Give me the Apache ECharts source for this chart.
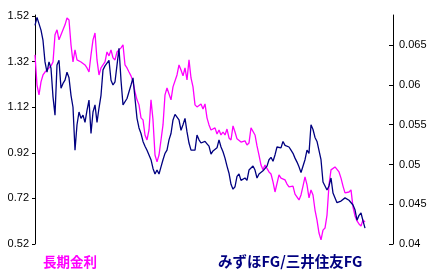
<!DOCTYPE html>
<html><head><meta charset="utf-8">
<script src="https://cdn.jsdelivr.net/npm/echarts@6/dist/echarts.min.js"></script>
<style>html,body{margin:0;padding:0;background:#fff}#c{width:433px;height:275px}</style>
</head><body><div id="c"></div>
<script>
const leftTicks = ['0.52','0.72','0.92','1.12','1.32','1.52'];
const rightTicks = ['0.04','0.045','0.05','0.055','0.06','0.065'];
const seriesNames = ['長期金利','みずほFG/三井住友FG'];
const yieldRate = [1.349,1.217,1.174,1.231,1.261,1.274,1.283,1.292,1.301,1.318,1.437,1.459,1.415,1.437,1.445,1.481,1.511,1.502,1.393,1.318,
1.371,1.327,1.327,1.318,1.318,1.305,1.292,1.274,1.349,1.415,1.445,1.327,1.261,1.292,1.305,1.318,1.362,1.345,1.371,1.336,
1.327,1.362,1.371,1.380,1.393,1.305,1.292,1.274,1.257,1.231,1.187,1.152,1.130,1.073,1.064,0.998,0.976,1.020,1.152,1.064,
0.910,0.880,0.910,0.976,1.042,1.174,1.204,1.200,1.152,1.209,1.217,1.261,1.305,1.283,1.257,1.292,1.239,1.327,1.248,1.209,
1.130,1.121,1.125,1.134,1.112,1.134,1.073,1.042,1.020,1.020,1.029,1.002,1.020,0.998,1.011,0.998,1.024,0.985,0.976,1.038,
1.011,0.981,0.976,0.967,0.959,0.972,0.954,0.963,1.029,1.033,0.998,0.950,0.910,0.866,0.845,0.866,0.858,0.836,0.827,0.792,
0.748,0.748,0.823,0.809,0.809,0.801,0.783,0.770,0.774,0.774,0.739,0.731,0.713,0.735,0.774,0.814,0.779,0.722,0.757,0.735,
0.669,0.625,0.568,0.538,0.581,0.590,0.647,0.779,0.845,0.853,0.858,0.866,0.836,0.809,0.774,0.744,0.744,0.748,0.757,0.682,
0.643,0.621,0.608,0.599,0.625,0.616];
const bankRatio = [0.0675,0.0685,0.0685,0.0669,0.0656,0.0629,0.0616,0.0629,0.0621,0.0585,0.0562,0.0625,0.0631,0.0596,0.0602,0.0606,0.0616,0.0609,0.0587,0.0572,
0.0518,0.0550,0.0566,0.0558,0.0562,0.0553,0.0568,0.0581,0.0539,0.0566,0.0575,0.0553,0.0571,0.0587,0.0619,0.0624,0.0625,0.0631,0.0606,0.0600,
0.0604,0.0625,0.0646,0.0606,0.0575,0.0576,0.0583,0.0581,0.0600,0.0609,0.0583,0.0558,0.0546,0.0539,0.0529,0.0523,0.0518,0.0516,0.0506,0.0495,
0.0488,0.0493,0.0488,0.0497,0.0506,0.0514,0.0518,0.0531,0.0539,0.0556,0.0563,0.0561,0.0556,0.0543,0.0550,0.0558,0.0541,0.0527,0.0518,0.0516,
0.0518,0.0537,0.0531,0.0527,0.0528,0.0529,0.0526,0.0523,0.0513,0.0517,0.0516,0.0521,0.0531,0.0522,0.0516,0.0508,0.0498,0.0489,0.0475,0.0469,
0.0472,0.0485,0.0488,0.0480,0.0478,0.0483,0.0480,0.0493,0.0492,0.0498,0.0493,0.0483,0.0488,0.0489,0.0492,0.0493,0.0498,0.0506,0.0509,0.0504,
0.0512,0.0522,0.0521,0.0521,0.0529,0.0524,0.0523,0.0522,0.0518,0.0514,0.0508,0.0503,0.0497,0.0490,0.0489,0.0506,0.0518,0.0514,0.0550,0.0544,
0.0534,0.0529,0.0528,0.0506,0.0478,0.0478,0.0468,0.0473,0.0483,0.0464,0.0462,0.0452,0.0450,0.0454,0.0453,0.0458,0.0458,0.0455,0.0454,0.0449,
0.0443,0.0430,0.0436,0.0439,0.0429,0.0420];

const chart = echarts.init(document.getElementById('c'), null, {renderer:'canvas'});
const toPairs = arr => arr.map((v,i)=>[i,v]);
const lblFont = {color:'#000', fontFamily:'Liberation Sans, Arial, sans-serif', fontSize:11};
chart.setOption({
  animation:false,
  backgroundColor:'#fff',
  grid:{left:35,right:40,top:15,bottom:31,containLabel:false},
  xAxis:{type:'value',min:0,max:179,show:false},
  yAxis:[
    {type:'value',min:0.52,max:1.524,position:'left',
     axisLine:{show:true,lineStyle:{color:'#000',width:1}},
     axisTick:{show:true,length:3,inside:false,customValues:leftTicks.map(Number),lineStyle:{color:'#000'}},
     axisLabel:Object.assign({customValues:leftTicks.map(Number),margin:6,
       formatter:v=>leftTicks.find(t=>Math.abs(Number(t)-v)<1e-6)||''},lblFont),
     splitLine:{show:false}},
    {type:'value',min:0.04,max:0.0688,position:'right',
     axisLine:{show:true,lineStyle:{color:'#000',width:1}},
     axisTick:{show:true,length:4,inside:true,customValues:rightTicks.map(Number),lineStyle:{color:'#000'}},
     axisLabel:Object.assign({customValues:rightTicks.map(Number),margin:6,
       formatter:v=>rightTicks.find(t=>Math.abs(Number(t)-v)<1e-7)||''},lblFont),
     splitLine:{show:false}}
  ],
  series:[
    {name:seriesNames[0],type:'line',yAxisIndex:0,data:toPairs(yieldRate),showSymbol:false,
     lineStyle:{color:'#FF00FF',width:1.3},itemStyle:{color:'#FF00FF'}},
    {name:seriesNames[1],type:'line',yAxisIndex:1,data:toPairs(bankRatio),showSymbol:false,
     lineStyle:{color:'#000080',width:1.3},itemStyle:{color:'#000080'}}
  ],
  graphic:[
    {type:'text',left:43,top:255,style:{text:seriesNames[0],fill:'#FF00FF',
      font:'bold 13.5px "Noto Sans CJK JP", sans-serif'}},
    {type:'text',left:218,top:254,style:{text:seriesNames[1],fill:'#000080',
      font:'bold 14.5px "Noto Sans CJK JP", sans-serif'}}
  ]
});
</script></body></html>
